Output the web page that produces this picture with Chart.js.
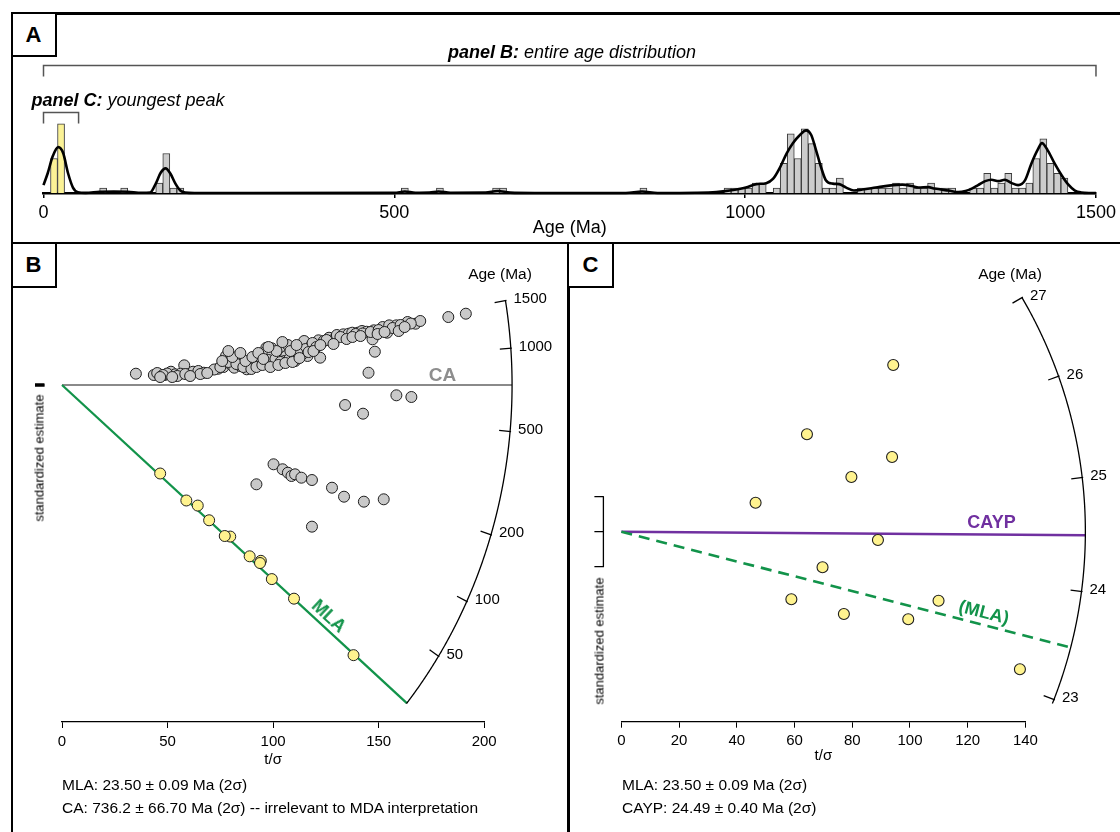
<!DOCTYPE html>
<html><head><meta charset="utf-8"><title>Detrital age distribution and radial plots</title>
<script src="https://cdn.jsdelivr.net/npm/chart.js@4.4.1/dist/chart.umd.min.js"></script>
<style>
html,body{margin:0;padding:0;background:#fff;}
#wrap{position:relative;width:1120px;height:832px;overflow:hidden;font-family:"Liberation Sans",Arial,sans-serif;color:#000;}
canvas{position:absolute;left:0;top:0;}
.ln{position:absolute;background:#000;}
.box{position:absolute;border:2px solid #000;box-sizing:border-box;background:#fff;font-weight:bold;font-size:22px;line-height:1;display:flex;align-items:center;justify-content:center;}
.t{position:absolute;white-space:nowrap;line-height:1;}
.c{transform:translate(-50%,-50%);}
.l{transform:translateY(-50%);}
</style></head><body><div id="wrap">
<canvas id="cA" width="1120" height="832"></canvas>
<canvas id="cB" width="1120" height="832"></canvas>
<canvas id="cC" width="1120" height="832"></canvas>

<div class="ln" style="left:10.5px;top:12px;width:1110px;height:2.5px"></div>
<div class="ln" style="left:10.5px;top:12px;width:2.5px;height:820px"></div>
<div class="ln" style="left:10.5px;top:241.5px;width:1110px;height:2.5px"></div>
<div class="ln" style="left:567px;top:241.5px;width:2.5px;height:591px"></div>
<div class="box" style="left:10.5px;top:12px;width:46px;height:45px">A</div>
<div class="box" style="left:10.5px;top:241.5px;width:46px;height:46px">B</div>
<div class="box" style="left:567px;top:241.5px;width:47px;height:46px">C</div>

<div class="t c" style="left:572px;top:51.5px;font-size:18px;font-style:italic"><b>panel B:</b> entire age distribution</div>
<div class="t l" style="left:31.5px;top:99.5px;font-size:18px;font-style:italic"><b>panel C:</b> youngest peak</div>

<div class="t c" style="left:500px;top:273.5px;font-size:15.5px">Age (Ma)</div>
<div class="t c" style="left:1010px;top:273.5px;font-size:15.5px">Age (Ma)</div>
<div class="t" style="left:39px;top:458px;font-size:13px;transform:translate(-50%,-50%) rotate(-90deg)">standardized estimate</div>
<div class="t" style="left:599px;top:641px;font-size:13px;transform:translate(-50%,-50%) rotate(-90deg)">standardized estimate</div>
<div class="t c" style="left:442.5px;top:373.5px;font-size:19px;font-weight:bold;color:#8e8e8e">CA</div>
<div class="t" style="left:328.6px;top:616px;font-size:18px;font-weight:bold;color:#12934a;transform:translate(-50%,-50%) rotate(42.7deg)">MLA</div>
<div class="t c" style="left:991.5px;top:521.7px;font-size:18px;font-weight:bold;color:#7030a0">CAYP</div>
<div class="t" style="left:984px;top:611.7px;font-size:18px;font-weight:bold;color:#12934a;transform:translate(-50%,-50%) rotate(14.4deg)">(MLA)</div>
<div class="t l" style="left:62px;top:785px;font-size:15.5px">MLA: 23.50 ± 0.09 Ma (2σ)</div>
<div class="t l" style="left:62px;top:808.3px;font-size:15.5px">CA: 736.2 ± 66.70 Ma (2σ) -- irrelevant to MDA interpretation</div>
<div class="t l" style="left:622px;top:785px;font-size:15.5px">MLA: 23.50 ± 0.09 Ma (2σ)</div>
<div class="t l" style="left:622px;top:808.3px;font-size:15.5px">CAYP: 24.49 ± 0.40 Ma (2σ)</div>
</div>
<script>
// ================= DATA =================
// Panel A: histogram (10 Ma bins) + KDE
const binWidth = 10;
const greyBinStart = [80,110,160,170,180,190,510,560,640,650,850,970,980,990,1000,1010,1020,1040,1050,1060,1070,1080,1090,1100,1110,1120,1130,1160,1170,1180,1190,1200,1210,1220,1230,1240,1250,1260,1270,1280,1290,1320,1330,1340,1350,1360,1370,1380,1390,1400,1410,1420,1430,1440,1450];
const greyBinCount = [1,1,2,8,1,1,1,1,1,1,1,1,1,1,1,2,2,1,6,12,7,13,10,6,1,1,3,1,1,1,1,1,2,1,2,1,1,2,1,1,1,1,1,4,1,2,4,1,1,2,7,11,6,4,3];
const youngBinStart = [10,20];
const youngBinCount = [7,14];
const kdeAge = [0,6,13,21,28,35,42,49,60,80,100,120,140,152,160,167,174,181,188,195,202,215,300,500,515,530,550,563,580,630,647,665,700,830,853,875,930,959,978,1001,1016,1030,1040,1049,1059,1068,1077,1087,1094,1101,1108,1115,1125,1134,1144,1155,1167,1186,1205,1224,1238,1247,1261,1270,1290,1304,1314,1323,1332,1342,1351,1361,1370,1380,1389,1399,1408,1417,1423,1431,1441,1451,1460,1470,1479,1490,1500];
const kdeDensity = [1.6,4.0,7.4,9.3,8.1,4.0,1.1,0.15,0.03,0.25,0.3,0.25,0.05,0.1,1.9,4.1,5.0,3.9,1.9,0.5,0.1,0,0,0.03,0.3,0.05,0.08,0.3,0.05,0.08,0.4,0.08,0,0,0.3,0,0.05,0.2,0.5,1.1,1.8,2.0,2.9,5.0,8.0,10.1,11.6,12.7,11.8,8.7,5.3,2.6,1.9,1.8,1.1,0.5,0.7,1.1,1.5,1.7,1.4,1.1,1.2,0.9,0.5,0.2,0.4,0.9,1.6,2.4,2.7,2.4,2.7,2.0,1.6,2.6,6.0,8.8,10.1,8.7,6.0,3.6,1.8,0.5,0.1,0,0];
const ageTicks = [0,500,1000,1500];
const rangePanelB = [0,1500];
const rangePanelC = [0,50];

// Panel B: radial plot of all grains (x = t/sigma, y = standardized estimate)
const bGreyT = [35.0,43.5,46.0,48.6,51.6,53.6,57.9,56.2,59.6,62.1,64.6,67.2,74.0,76.5,77.7,79.9,81.6,83.8,84.5,87.5,88.4,90.9,93.5,94.3,96.8,99.4,96.0,96.8,100.2,99.4,102.8,105.4,107.0,106.2,105.4,109.6,110.4,113.0,114.7,116.3,118.0,121.5,122.3,124.0,126.5,128.1,130.2,133.3,135.8,137.5,140.1,142.1,144.3,147.7,147.1,148.2,145.2,151.9,154.0,155.0,158.4,163.7,167.5,169.7,183.0,191.3,
  45.1,49.8,54.6,58.4,65.5,47.8,72.1,75.0,78.8,82.6,85.9,89.7,92.1,94.9,97.8,101.1,103.5,107.7,111.1,113.9,115.3,111.5,108.2,101.6,97.8,118.7,120.5,125.3,131.9,139.1,142.4,146.2,150.0,156.6,160.4,165.2,
  75.9,80.7,86.9,90.2,93.0,95.4,98.7,102.5,105.8,109.2,112.5,116.8,119.1,122.4,128.6,134.8,137.6,141.4,149.5,152.8,159.5,162.3,84.5,78.8,104.4,111.1,68.8,60.7,46.5,52.2,
  158.4,165.5,134.1,142.6,100.2,104.5,107.0,108.7,110.4,113.4,118.4,92.1,127.9,133.6,143.0,152.4,118.4];
const bGreyZ = [20.0,17.7,18.9,17.7,23.5,18.9,34.8,20.0,18.9,23.5,24.8,21.7,28.8,31.8,51.3,36.6,30.6,46.5,33.6,27.8,33.6,33.6,39.4,47.2,65.9,64.9,57.1,39.4,39.4,51.3,51.3,67.2,70.7,51.3,42.4,51.3,42.4,60.1,77.8,51.3,69.0,79.0,48.3,77.8,83.6,79.0,88.4,89.6,90.7,92.5,92.5,95.5,94.2,96.7,80.8,58.9,21.7,102.5,92.5,105.5,105.5,111.4,108.4,113.2,120.2,126.1,
  21.2,20.3,15.9,19.4,19.4,17.7,27.4,31.8,40.7,37.1,31.8,28.3,31.8,35.4,44.2,46.0,40.7,46.0,47.7,54.8,63.6,56.6,60.1,60.1,67.2,74.3,67.2,79.6,84.9,90.2,91.1,93.7,97.2,100.8,106.1,108.7,
  42.4,49.5,42.4,49.5,56.6,46.0,31.8,35.4,38.9,40.7,47.7,58.3,60.1,70.7,72.5,81.3,84.9,86.6,90.2,93.7,95.5,102.5,56.6,60.1,76.0,70.7,21.2,15.9,14.1,14.1,
  -18.2,-21.2,-35.4,-50.7,-140.2,-149.0,-155.1,-160.9,-157.9,-163.9,-168.0,-175.6,-181.6,-197.5,-206.3,-202.1,-250.5];
const youngT = [46.5,64.3,94.2,79.7,93.8,88.9,69.7,58.9,77.1,99.4,109.9,138.1];
const bYoungZ = [-156.5,-213.2,-310.9,-268.0,-314.8,-302.9,-239.2,-204.2,-267.0,-343.2,-377.8,-477.7];
const bTicks = [0,50,100,150,200];
const bArcTicks = [50,100,200,500,1000,1500];
const bArcRange = [23.3,1500];
const caAge = 736.2;
const mlaAge = 23.50;

// Panel C: radial plot of youngest peak
const cYoungZ = [1.657,5.566,9.526,3.126,4.269,-0.474,-2.034,-3.863,-4.703,-5.006,-3.943,-7.863];
const cTicks = [0,20,40,60,80,100,120,140];
const cArcTicks = [23,24,25,26,27];
const cArcRange = [22.96,27.0];
const cCentral = 24.52;
const caypAge = 24.49;

// ================= DRAWING =================
const FONT = '"Liberation Sans", Arial, sans-serif';
Chart.defaults.font.family = FONT;
Chart.defaults.color = '#000';

const bracketPlugin = {
  id:'brackets',
  afterDraw(chart){
    const {ctx, scales:{x}} = chart;
    ctx.save(); ctx.strokeStyle='#555'; ctx.lineWidth=1.5;
    [[rangePanelB,65.5,76.5],[rangePanelC,112.5,123.5]].forEach(([r,y0,y1])=>{
      const x0=x.getPixelForValue(r[0]), x1=x.getPixelForValue(r[1]);
      ctx.beginPath(); ctx.moveTo(x0,y1); ctx.lineTo(x0,y0); ctx.lineTo(x1,y0); ctx.lineTo(x1,y1); ctx.stroke();
    });
    ctx.restore();
  }
};

const histData = youngBinStart.map((s,i)=>({x:s+binWidth/2, y:youngBinCount[i], young:true}))
  .concat(greyBinStart.map((s,i)=>({x:s+binWidth/2, y:greyBinCount[i], young:false})));

new Chart(document.getElementById('cA'), {
  type:'bar',
  data:{datasets:[
    {type:'line', data:kdeAge.map((a,i)=>({x:a,y:kdeDensity[i]})), borderColor:'#000', borderWidth:2.6,
     pointRadius:0, cubicInterpolationMode:'monotone', fill:false, order:0, clip:false},
    {type:'bar', data:histData,
     backgroundColor:c=>(c.raw && c.raw.young) ? '#fbf296' : '#cccccc',
     borderColor:'#3a3a3a', borderWidth:1, barPercentage:1, categoryPercentage:1, order:1}
  ]},
  options:{
    responsive:false, animation:false, events:[],
    datasets:{bar:{barPercentage:1, categoryPercentage:1}},
    plugins:{legend:{display:false}, tooltip:{enabled:false}},
    layout:{padding:{left:43.5, right:18.5, top:119, bottom:832-193-50}},
    scales:{
      x:{type:'linear', min:0, max:1500, offset:false, z:1,
         afterBuildTicks:s=>{s.ticks = ageTicks.map(v=>({value:v}));},
         ticks:{font:{size:18}, padding:4, maxRotation:0, autoSkip:false, color:'#000', callback:v=>String(v)},
         grid:{drawOnChartArea:false, offset:false, tickLength:5, color:'#000', lineWidth:1.5},
         border:{color:'#000', width:2.6},
         title:{display:true, text:'Age (Ma)', font:{size:18}, color:'#000', padding:{top:0,bottom:4}},
         afterFit:s=>{s.height=50;}},
      y:{display:false, min:0, max:15}
    }
  },
  plugins:[bracketPlugin]
});

function arcData(age,o){
  const m = Math.log(age/o.t0);
  const xd = 1/Math.sqrt(1/(o.a*o.a) + m*m/(o.b*o.b));
  return {x:xd, y:m*xd};
}
function radialLayer(o){
  return {id:o.id, afterDatasetsDraw(chart){
    const {ctx, scales:{x,y}} = chart;
    const ox=x.getPixelForValue(0), oy=y.getPixelForValue(0);
    const P = age=>{const d=arcData(age,o); return {x:x.getPixelForValue(d.x), y:y.getPixelForValue(d.y)};};
    ctx.save(); ctx.strokeStyle='#000'; ctx.lineWidth=1.3; ctx.lineJoin='round';
    ctx.beginPath();
    const l0=Math.log(o.range[0]), l1=Math.log(o.range[1]);
    for(let i=0;i<=400;i++){const p=P(Math.exp(l0+(l1-l0)*i/400)); if(i) ctx.lineTo(p.x,p.y); else ctx.moveTo(p.x,p.y);}
    ctx.stroke();
    ctx.font='15px '+FONT; ctx.fillStyle='#000'; ctx.textAlign='left'; ctx.textBaseline='middle';
    o.ticks.forEach(t=>{
      const p=P(t); const dx=p.x-ox, dy=p.y-oy, L=Math.hypot(dx,dy);
      ctx.beginPath(); ctx.moveTo(p.x+dx/L, p.y+dy/L); ctx.lineTo(p.x-dx/L*o.tickLen, p.y-dy/L*o.tickLen); ctx.stroke();
      ctx.fillText(String(t), p.x+8, p.y-1.5);
    });
    const bx=ox-18, yt=y.getPixelForValue(2), yb=y.getPixelForValue(-2);
    ctx.beginPath();
    ctx.moveTo(bx-9,yt); ctx.lineTo(bx,yt); ctx.lineTo(bx,yb); ctx.lineTo(bx-9,yb);
    ctx.moveTo(bx-9,oy); ctx.lineTo(bx,oy);
    ctx.stroke();
    ctx.restore();
  }};
}
function radialOptions(pad, xmin, xmax, tickArr, ymin, ymax, axisH, tickPad){
  return {
    responsive:false, animation:false, events:[],
    plugins:{legend:{display:false}, tooltip:{enabled:false}},
    layout:{padding:pad},
    scales:{
      x:{type:'linear', min:xmin, max:xmax,
         afterBuildTicks:s=>{s.ticks = tickArr.map(v=>({value:v}));},
         ticks:{font:{size:15}, padding:tickPad, maxRotation:0, autoSkip:false, color:'#000', callback:v=>String(v)},
         grid:{drawOnChartArea:false, tickLength:6, color:'#000', lineWidth:1},
         border:{color:'#000', width:1.3},
         title:{display:true, text:'t/σ', font:{size:15}, color:'#000', padding:{top:0,bottom:4}},
         afterFit:s=>{s.height=axisH;}},
      y:{display:false, min:ymin, max:ymax}
    }
  };
}

// Panel B
const bArc = {id:'arcB', t0:caAge, a:213.2, b:875.3, range:bArcRange, ticks:bArcTicks, tickLen:11};
const caEnd = arcData(caAge,bArc), mlaEndB = arcData(mlaAge,bArc);
new Chart(document.getElementById('cB'), {
  type:'scatter',
  data:{datasets:[
    {type:'line', data:[{x:0,y:0},caEnd], borderColor:'#8a8a8a', borderWidth:2.2, pointRadius:0, showLine:true, clip:false, order:4},
    {type:'line', data:[{x:0,y:0},mlaEndB], borderColor:'#12934a', borderWidth:2.3, pointRadius:0, showLine:true, clip:false, order:3},
    {data:bGreyT.map((t,i)=>({x:t,y:bGreyZ[i]})), backgroundColor:'#c9c9c9', borderColor:'#1e1e1e', borderWidth:1, pointRadius:5.5, clip:false, order:2},
    {data:youngT.map((t,i)=>({x:t,y:bYoungZ[i]})), backgroundColor:'#fff38f', borderColor:'#1e1e1e', borderWidth:1, pointRadius:5.5, clip:false, order:1}
  ]},
  options:radialOptions({left:62, right:1120-484.2, top:290, bottom:832-722-51}, 0, 200, bTicks, -595.9, 168.0, 51, 5),
  plugins:[radialLayer(bArc)]
});

// Panel C
const cArc = {id:'arcC', t0:cCentral, a:160.78, b:26.514, range:cArcRange, ticks:cArcTicks, tickLen:11};
const caypEnd = arcData(caypAge,cArc), mlaEndC = arcData(mlaAge,cArc);
new Chart(document.getElementById('cC'), {
  type:'scatter',
  data:{datasets:[
    {type:'line', data:[{x:0,y:0},caypEnd], borderColor:'#7030a0', borderWidth:2.5, pointRadius:0, showLine:true, clip:false, order:4},
    {type:'line', data:[{x:0,y:0},mlaEndC], borderColor:'#12934a', borderWidth:2.6, borderDash:[11,7], pointRadius:0, showLine:true, clip:false, order:3},
    {data:youngT.map((t,i)=>({x:t,y:cYoungZ[i]})), backgroundColor:'#fff38f', borderColor:'#1e1e1e', borderWidth:1.1, pointRadius:5.5, clip:false, order:1}
  ]},
  options:radialOptions({left:621.4, right:1120-1025.4, top:290, bottom:832-721.7-47}, 0, 140, cTicks, -10.857, 13.811, 47, 4),
  plugins:[radialLayer(cArc)]
});
</script>
</body></html>
